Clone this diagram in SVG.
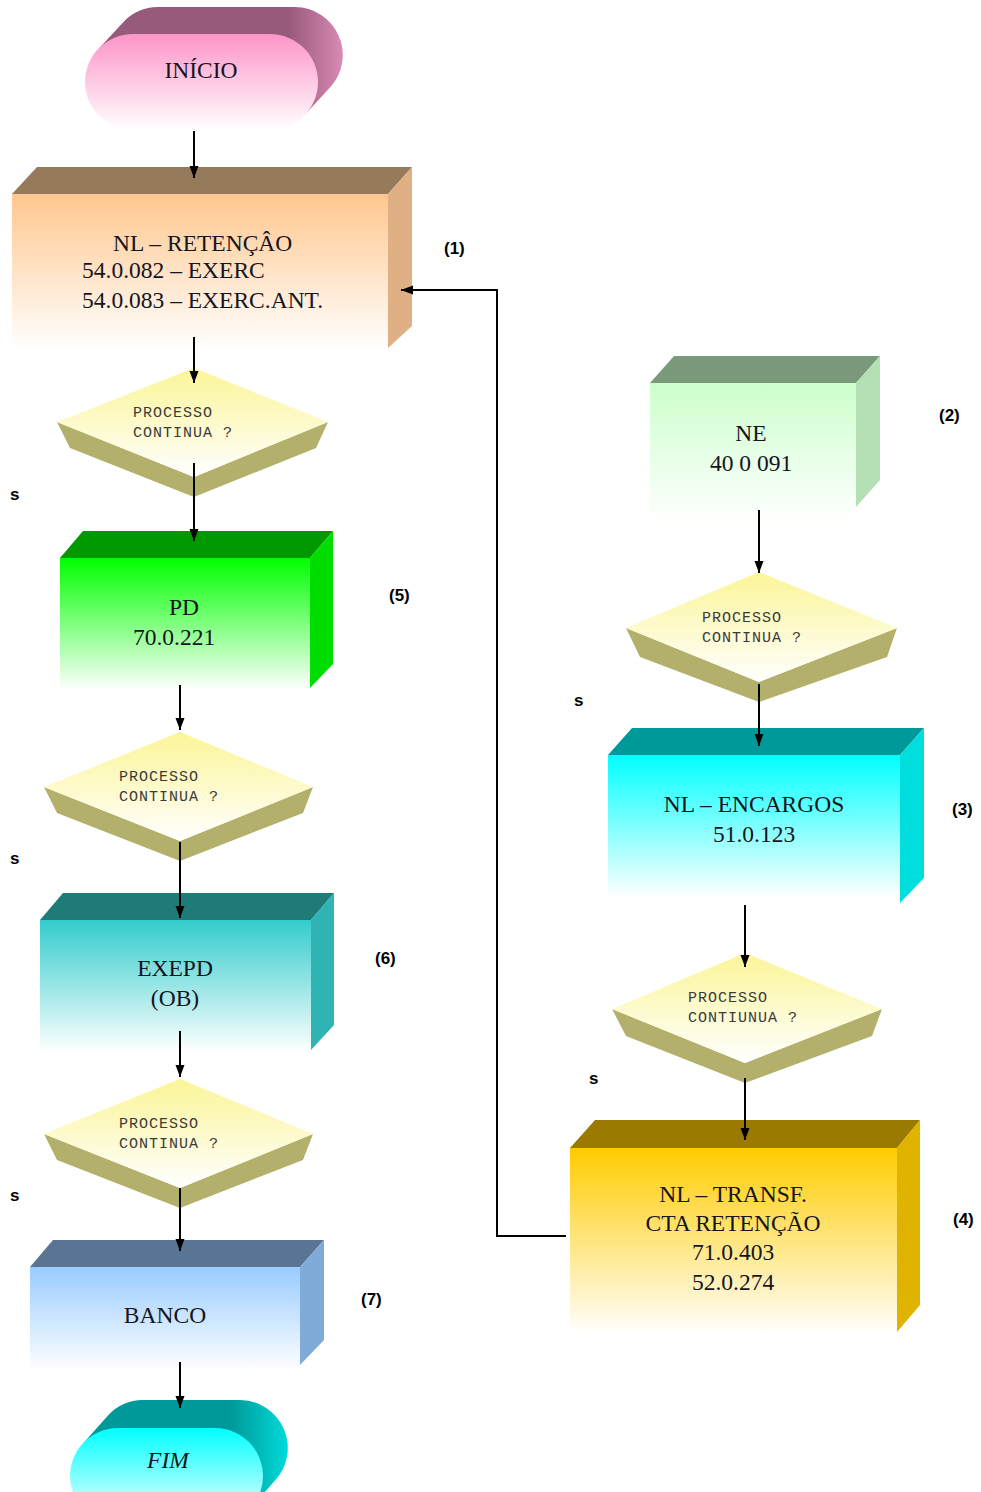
<svg xmlns="http://www.w3.org/2000/svg" width="981" height="1492" viewBox="0 0 981 1492">
<defs>
<linearGradient id="gPink" x1="0" y1="0" x2="0" y2="1"><stop offset="0" stop-color="#fd94c8"/><stop offset="1" stop-color="#ffffff"/></linearGradient>
<linearGradient id="gPinkX" x1="0" y1="0" x2="1" y2="0"><stop offset="0" stop-color="#985a7b"/><stop offset="0.78" stop-color="#985a7b"/><stop offset="1" stop-color="#d98ab4"/></linearGradient>
<linearGradient id="gCyan" x1="0" y1="0" x2="0" y2="1"><stop offset="0" stop-color="#00ffff"/><stop offset="1" stop-color="#ffffff"/></linearGradient>
<linearGradient id="gCyanX" x1="0" y1="0" x2="1" y2="0"><stop offset="0" stop-color="#009999"/><stop offset="0.72" stop-color="#009999"/><stop offset="1" stop-color="#00dada"/></linearGradient>
<linearGradient id="gPeach" x1="0" y1="0" x2="0" y2="1"><stop offset="0" stop-color="#ffc78e"/><stop offset="1" stop-color="#ffffff"/></linearGradient>
<linearGradient id="gGreen" x1="0" y1="0" x2="0" y2="1"><stop offset="0" stop-color="#00ff00"/><stop offset="1" stop-color="#ffffff"/></linearGradient>
<linearGradient id="gTeal" x1="0" y1="0" x2="0" y2="1"><stop offset="0" stop-color="#33cccc"/><stop offset="1" stop-color="#ffffff"/></linearGradient>
<linearGradient id="gBlue" x1="0" y1="0" x2="0" y2="1"><stop offset="0" stop-color="#99ccff"/><stop offset="1" stop-color="#ffffff"/></linearGradient>
<linearGradient id="gMint" x1="0" y1="0" x2="0" y2="1"><stop offset="0" stop-color="#ccffcc"/><stop offset="1" stop-color="#ffffff"/></linearGradient>
<linearGradient id="gGold" x1="0" y1="0" x2="0" y2="1"><stop offset="0" stop-color="#ffcc00"/><stop offset="1" stop-color="#ffffff"/></linearGradient>
<linearGradient id="gDia" x1="0" y1="0" x2="0" y2="1"><stop offset="0" stop-color="#fbf597"/><stop offset="1" stop-color="#ffffff"/></linearGradient>
<marker id="arr" markerWidth="12" markerHeight="16" refX="16" refY="6" viewBox="0 0 16 12" markerUnits="userSpaceOnUse" orient="auto"><path d="M0,0 L16,6 L0,12 Z" fill="#000"/></marker>
<style>
.t{font-family:"Liberation Serif",serif;font-size:23.5px;fill:#151520;}
.c{text-anchor:middle;}
.m{font-family:"Liberation Mono",monospace;font-size:15px;fill:#3a3a3a;letter-spacing:1px;}
.n{font-family:"Liberation Sans",Arial,sans-serif;font-size:17px;font-weight:bold;fill:#000;}
.dx{fill:#b3b06c;}
.dl{fill:url(#gDia);}
.ln{fill:none;stroke:#000;stroke-width:2;}
</style>
</defs>

<g id="inicio">
<path d="M98,49.4 L123,22.4 A48,48 0 0 1 158,7 L295,7 A48,48 0 0 1 330,87.6 L305,114.6 Z" fill="url(#gPinkX)"/>
<rect x="85" y="34" width="233" height="96" rx="48" fill="url(#gPink)"/>
<text class="t c" x="201" y="78">INÍCIO</text>
</g>

<g id="n1">
<polygon points="12,194 37,167 412,167 388,194" fill="#967a5c"/>
<polygon points="388,194 412,167 412,326 388,348" fill="#deb083"/>
<rect x="12" y="194" width="376" height="156" fill="url(#gPeach)"/>
<text class="t" x="113" y="251">NL – RETENÇÂO</text>
<text class="t" x="82" y="278">54.0.082 – EXERC</text>
<text class="t" x="82" y="308">54.0.083 – EXERC.ANT.</text>
<text class="n" x="444" y="254">(1)</text>
</g>

<g id="d1">
<polygon class="dx" points="57,422 70,448 194,497 316,448 328,422 194,477"/>
<polygon class="dl" points="194,368 328,422 194,477 57,422"/>
<text class="m" x="133" y="417">PROCESSO</text>
<text class="m" x="133" y="437">CONTINUA ?</text>
<text class="n" x="10" y="500">s</text>
</g>

<g id="n5">
<polygon points="60,558 83,531 333,531 310,558" fill="#009900"/>
<polygon points="310,558 333,531 333,664 310,688" fill="#00dd00"/>
<rect x="60" y="558" width="250" height="132" fill="url(#gGreen)"/>
<text class="t c" x="184" y="615">PD</text>
<text class="t c" x="174" y="645">70.0.221</text>
<text class="n" x="389" y="601">(5)</text>
</g>

<g id="d2">
<polygon class="dx" points="44,787 57,813 180,861 303,813 313,787 180,841"/>
<polygon class="dl" points="180,732 313,787 180,841 44,787"/>
<text class="m" x="119" y="781">PROCESSO</text>
<text class="m" x="119" y="801">CONTINUA ?</text>
<text class="n" x="10" y="864">s</text>
</g>

<g id="n6">
<polygon points="40,920 63,893 334,893 311,920" fill="#1f7b78"/>
<polygon points="311,920 334,893 334,1025 311,1050" fill="#2fb3b3"/>
<rect x="40" y="920" width="271" height="132" fill="url(#gTeal)"/>
<text class="t c" x="175" y="976">EXEPD</text>
<text class="t c" x="175" y="1006">(OB)</text>
<text class="n" x="375" y="964">(6)</text>
</g>

<g id="d3">
<polygon class="dx" points="44,1134 57,1160 180,1208 303,1160 313,1134 180,1188"/>
<polygon class="dl" points="180,1079 313,1134 180,1188 44,1134"/>
<text class="m" x="119" y="1128">PROCESSO</text>
<text class="m" x="119" y="1148">CONTINUA ?</text>
<text class="n" x="10" y="1201">s</text>
</g>

<g id="n7">
<polygon points="30,1267 53,1240 324,1240 300,1267" fill="#5a7494"/>
<polygon points="300,1267 324,1240 324,1340 300,1365" fill="#80aad8"/>
<rect x="30" y="1267" width="270" height="104" fill="url(#gBlue)"/>
<text class="t c" x="165" y="1323">BANCO</text>
<text class="n" x="361" y="1305">(7)</text>
</g>

<g id="fim">
<path d="M83,1443.4 L108,1415.4 A48,48 0 0 1 143,1400 L240,1400 A48,48 0 0 1 275,1480.6 L250,1508.6 Z" fill="url(#gCyanX)"/>
<rect x="70" y="1428" width="193" height="96" rx="48" fill="url(#gCyan)"/>
<text class="t c" x="168" y="1468" font-style="italic">FIM</text>
</g>

<g id="n2">
<polygon points="650,383 674,356 880,356 856,383" fill="#7b9a7b"/>
<polygon points="856,383 880,356 880,480 856,507" fill="#b5dfb5"/>
<rect x="650" y="383" width="206" height="140" fill="url(#gMint)"/>
<text class="t c" x="751" y="441">NE</text>
<text class="t c" x="751" y="471">40 0 091</text>
<text class="n" x="939" y="421">(2)</text>
</g>

<g id="dr1">
<polygon class="dx" points="626,628 640,657 759,702 887,657 897,628 759,682"/>
<polygon class="dl" points="759,572 897,628 759,682 626,628"/>
<text class="m" x="702" y="622">PROCESSO</text>
<text class="m" x="702" y="642">CONTINUA ?</text>
<text class="n" x="574" y="706">s</text>
</g>

<g id="n3">
<polygon points="608,755 632,728 924,728 900,755" fill="#009999"/>
<polygon points="900,755 924,728 924,878 900,903" fill="#00dddd"/>
<rect x="608" y="755" width="292" height="142" fill="url(#gCyan)"/>
<text class="t c" x="754" y="812">NL – ENCARGOS</text>
<text class="t c" x="754" y="842">51.0.123</text>
<text class="n" x="952" y="815">(3)</text>
</g>

<g id="dr2">
<polygon class="dx" points="612,1009 626,1036 745,1083 872,1036 882,1009 745,1063"/>
<polygon class="dl" points="745,953 882,1009 745,1063 612,1009"/>
<text class="m" x="688" y="1002">PROCESSO</text>
<text class="m" x="688" y="1022">CONTIUNUA ?</text>
<text class="n" x="589" y="1084">s</text>
</g>

<g id="n4">
<polygon points="570,1148 595,1120 920,1120 897,1148" fill="#9a7a00"/>
<polygon points="897,1148 920,1120 920,1305 897,1332" fill="#e0b300"/>
<rect x="570" y="1148" width="327" height="186" fill="url(#gGold)"/>
<text class="t c" x="733" y="1202">NL – TRANSF.</text>
<text class="t c" x="733" y="1231">CTA RETENÇÃO</text>
<text class="t c" x="733" y="1260">71.0.403</text>
<text class="t c" x="733" y="1290">52.0.274</text>
<text class="n" x="953" y="1225">(4)</text>
</g>

<g id="connectors">
<line class="ln" x1="194" y1="131" x2="194" y2="178" marker-end="url(#arr)"/>
<line class="ln" x1="194" y1="337" x2="194" y2="383" marker-end="url(#arr)"/>
<line class="ln" x1="194" y1="463" x2="194" y2="541" marker-end="url(#arr)"/>
<line class="ln" x1="180" y1="685" x2="180" y2="730" marker-end="url(#arr)"/>
<line class="ln" x1="180" y1="842" x2="180" y2="918" marker-end="url(#arr)"/>
<line class="ln" x1="180" y1="1031" x2="180" y2="1077" marker-end="url(#arr)"/>
<line class="ln" x1="180" y1="1188" x2="180" y2="1251" marker-end="url(#arr)"/>
<line class="ln" x1="180" y1="1362" x2="180" y2="1408" marker-end="url(#arr)"/>
<line class="ln" x1="759" y1="510" x2="759" y2="573" marker-end="url(#arr)"/>
<line class="ln" x1="759" y1="684" x2="759" y2="746" marker-end="url(#arr)"/>
<line class="ln" x1="745" y1="905" x2="745" y2="967" marker-end="url(#arr)"/>
<line class="ln" x1="745" y1="1078" x2="745" y2="1140" marker-end="url(#arr)"/>
<polyline class="ln" points="566,1236 497,1236 497,290 401,290" marker-end="url(#arr)"/>
</g>
</svg>
